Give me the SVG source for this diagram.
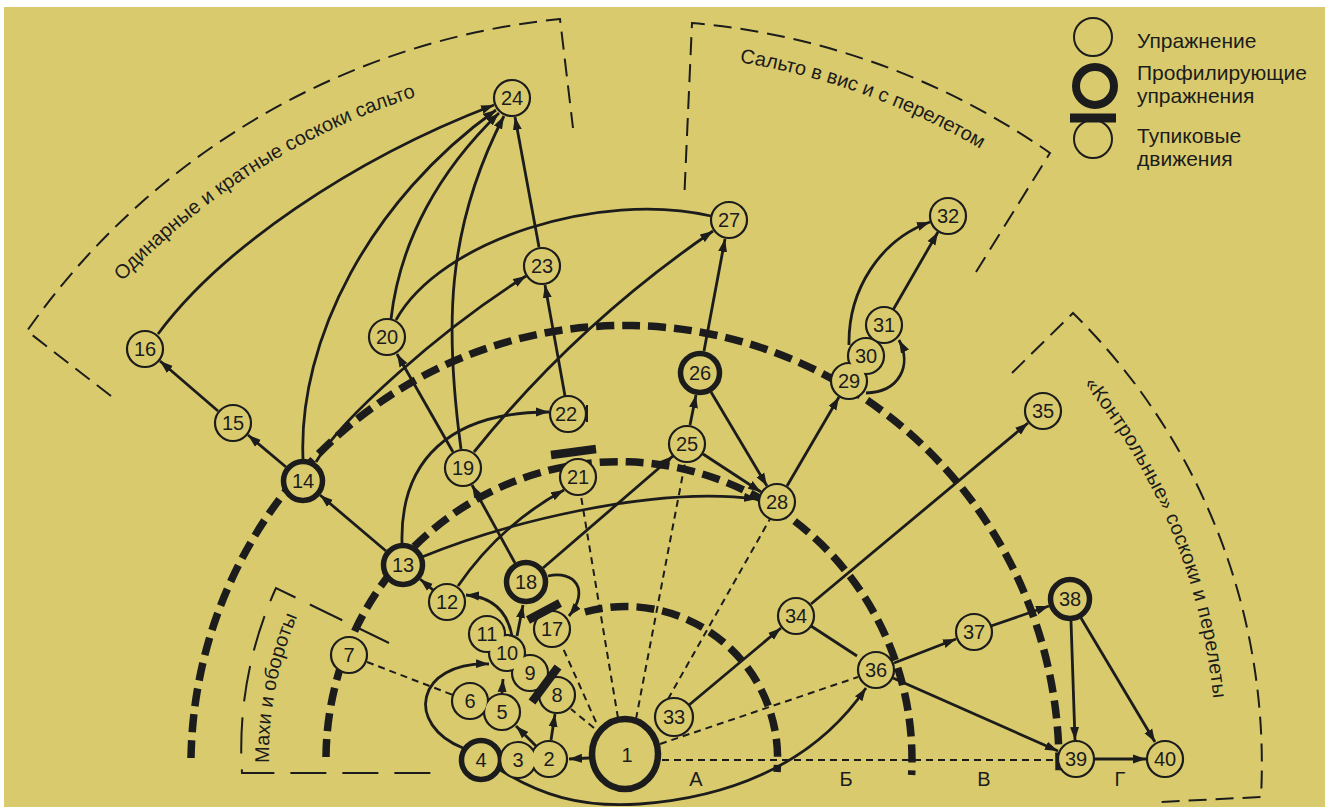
<svg xmlns="http://www.w3.org/2000/svg" width="1325" height="807" viewBox="0 0 1325 807">
<defs>
<style>
.n circle,.n ellipse{fill:#D9CB6D;stroke:#1c1c1c;stroke-width:2.2}
.n.p circle{stroke-width:5.5}
.n text{font-family:"Liberation Sans",Arial,sans-serif;font-size:20px;fill:#1c1c1c;text-anchor:middle}
.e{fill:none;stroke:#1c1c1c;stroke-width:2.8}
.a{marker-end:url(#ah)}
.d{fill:none;stroke:#1c1c1c;stroke-width:2;stroke-dasharray:7 5}
.z{fill:none;stroke:#1c1c1c;stroke-width:7.5;stroke-dasharray:18 8}
.s{fill:none;stroke:#1c1c1c;stroke-width:2;stroke-dasharray:18 9}
.s2{fill:none;stroke:#1c1c1c;stroke-width:2;stroke-dasharray:36 16}
.bar{stroke:#1c1c1c;stroke-width:8.5;fill:none}
.lbl{font-family:"Liberation Sans",Arial,sans-serif;font-size:20px;fill:#1c1c1c}
.zl{font-family:"Liberation Sans",Arial,sans-serif;font-size:20px;fill:#1c1c1c;text-anchor:middle}
.lg{font-family:"Liberation Sans",Arial,sans-serif;font-size:21px;fill:#1c1c1c}
</style>
<marker id="ah" markerUnits="userSpaceOnUse" markerWidth="14" markerHeight="10" refX="13" refY="5" orient="auto"><path d="M0,0.5 L13,5 L0,9.5 z" fill="#1c1c1c"/></marker>
<mask id="m2" maskUnits="userSpaceOnUse" x="0" y="0" width="1325" height="807"><rect width="1325" height="807" fill="#fff"/><circle cx="518" cy="760" r="16.9" fill="#000"/></mask>
<mask id="m3" maskUnits="userSpaceOnUse" x="0" y="0" width="1325" height="807"><rect width="1325" height="807" fill="#fff"/><circle cx="549" cy="759" r="16.9" fill="#000"/><circle cx="481" cy="760" r="16.75" fill="#000"/></mask>
<mask id="m4" maskUnits="userSpaceOnUse" x="0" y="0" width="1325" height="807"><rect width="1325" height="807" fill="#fff"/><circle cx="518" cy="760" r="16.9" fill="#000"/></mask>
<mask id="m5" maskUnits="userSpaceOnUse" x="0" y="0" width="1325" height="807"><rect width="1325" height="807" fill="#fff"/><circle cx="470" cy="701" r="16.9" fill="#000"/></mask>
<mask id="m6" maskUnits="userSpaceOnUse" x="0" y="0" width="1325" height="807"><rect width="1325" height="807" fill="#fff"/><circle cx="502" cy="712" r="16.9" fill="#000"/></mask>
<mask id="m9" maskUnits="userSpaceOnUse" x="0" y="0" width="1325" height="807"><rect width="1325" height="807" fill="#fff"/><circle cx="507" cy="653" r="16.9" fill="#000"/></mask>
<mask id="m10" maskUnits="userSpaceOnUse" x="0" y="0" width="1325" height="807"><rect width="1325" height="807" fill="#fff"/><circle cx="530" cy="673" r="16.9" fill="#000"/><circle cx="487" cy="634" r="16.9" fill="#000"/></mask>
<mask id="m11" maskUnits="userSpaceOnUse" x="0" y="0" width="1325" height="807"><rect width="1325" height="807" fill="#fff"/><circle cx="507" cy="653" r="16.9" fill="#000"/></mask>
<mask id="m29" maskUnits="userSpaceOnUse" x="0" y="0" width="1325" height="807"><rect width="1325" height="807" fill="#fff"/><circle cx="866" cy="356" r="16.9" fill="#000"/></mask>
<mask id="m30" maskUnits="userSpaceOnUse" x="0" y="0" width="1325" height="807"><rect width="1325" height="807" fill="#fff"/><circle cx="849" cy="381" r="16.9" fill="#000"/><circle cx="884" cy="325" r="16.9" fill="#000"/></mask>
<mask id="m31" maskUnits="userSpaceOnUse" x="0" y="0" width="1325" height="807"><rect width="1325" height="807" fill="#fff"/><circle cx="866" cy="356" r="16.9" fill="#000"/></mask>
<path id="tp1" d="M122.4,281.4 A692,692 0 0 1 482.1,79.1"/>
<path id="tp2" d="M739.6,62.2 A703,703 0 0 1 1029.2,180.1"/>
<path id="tp3" d="M1083.8,383.9 A590,590 0 0 1 1216,756"/>
<path id="tp4" d="M269.1,762.9 A357,357 0 0 1 316.8,577.5"/>
</defs>
<rect width="1325" height="807" fill="#fff"/>
<rect x="4" y="7" width="1321" height="800" fill="#D9CB6D"/>

<g id="zones">
<path class="s" d="M111,396 L27,331 A741,741 0 0 1 560,19 L573,128"/>
<path class="s" d="M684.6,190 L692,23 A737,737 0 0 1 1050,153 L976,272"/>
<path class="s" d="M1012,373 L1073,313 A633,633 0 0 1 1261,797 L1160,802"/>
<path class="s2" d="M389,643 L276,588 A388,388 0 0 0 242,773 L441,773"/>
<text class="lbl"><textPath href="#tp1">Одинарные и кратные соскоки сальто</textPath></text>
<text class="lbl"><textPath href="#tp2">Сальто в вис и с перелетом</textPath></text>
<text class="lbl"><textPath href="#tp3" textLength="345" lengthAdjust="spacing">«Контрольные» соскоки и перелеты</textPath></text>
<text class="lbl"><textPath href="#tp4">Махи и обороты</textPath></text>
<path class="z" d="M585,612 A152,152 0 0 1 777,772"/>
<path class="z" d="M326,757 A293,298 0 1 1 911.6,775"/>
<path class="z" d="M191,758 A434,440 0 1 1 1059,773"/>
<text class="zl" x="696" y="786">А</text>
<text class="zl" x="846" y="786">Б</text>
<text class="zl" x="984" y="786">В</text>
<text class="zl" x="1120" y="786">Г</text>
</g>

<g id="connectors">
<path class="d" d="M594,728 L571,709"/>
<path class="d" d="M596,722 L562,646"/>
<path class="d" d="M618,718 L581,496"/>
<path class="d" d="M636,719 L685,463"/>
<path class="d" d="M668,699 L770,519"/>
<path class="d" d="M660,744 L858,677"/>
<path class="d" d="M662,760 L1057,760"/>
<path class="d" d="M367,662 L453,695"/>
<path class="e a" d="M589,758 L569,759"/>
<path class="e a" d="M536,746 L516,726"/>
<path class="e a" d="M551,740 L555,714"/>
<path class="e a" d="M502,693 L503,679"/>
<path class="e a" d="M463,748 C405,725 415,662 489,664"/>
<path class="e a" d="M497,768 C540,795 580,808 640,804 C720,798 810,770 866,688"/>
<path class="e a" d="M512,636 Q505,598 466,595"/>
<path class="e a" d="M517,636 L523,605"/>
<path class="e a" d="M548,576 C575,570 590,590 569,616"/>
<path class="e a" d="M515,563 L472,485"/>
<path class="e a" d="M543,568 L673,456"/>
<path class="e a" d="M433,590 L420,579"/>
<path class="e a" d="M458,586 Q500,525 564,490"/>
<path class="e a" d="M386,551 L320,495"/>
<path class="e a" d="M286,467 L248,435"/>
<path class="e a" d="M218,411 L160,361"/>
<path class="e a" d="M158,334 C220,250 350,160 494,105"/>
<path class="e a" d="M303,459 C298,340 370,200 496,110"/>
<path class="e a" d="M391,319 C400,240 440,170 499,113"/>
<path class="e a" d="M461,449 C445,330 445,230 504,116"/>
<path class="e a" d="M539,247 L515,117"/>
<path class="e a" d="M565,396 L545,285"/>
<path class="e a" d="M453,452 L397,354"/>
<path class="e a" d="M402,543 C400,460 450,412 549,412"/>
<path class="e" d="M396,320 C440,240 600,190 711,216"/>
<path class="e a" d="M474,452 Q576,325 713,231"/>
<path class="e a" d="M316,462 C340,420 440,330 526,276"/>
<path class="e a" d="M422,557 C500,525 650,485 757,499"/>
<path class="e a" d="M690,425 L696,395"/>
<path class="e a" d="M703,454 L761,492"/>
<path class="e a" d="M711,392 L767,486"/>
<path class="e a" d="M704,351 L725,239"/>
<path class="e a" d="M787,486 L839,397"/>
<path class="e a" d="M866,393 C900,392 912,365 899,340"/>
<path class="e a" d="M849,345 C848,290 880,240 930,222"/>
<path class="e a" d="M893,310 L938,232"/>
<path class="e a" d="M689,705 L781,628"/>
<path class="e a" d="M811,604 L1028,423"/>
<path class="e" d="M811,626 L857,656"/>
<path class="e a" d="M894,663 L956,639"/>
<path class="e a" d="M893,678 L1058,751"/>
<path class="e a" d="M991,626 L1049,606"/>
<path class="e a" d="M1071,621 L1075,740"/>
<path class="e a" d="M1081,618 L1155,742"/>
<path class="e a" d="M1095,759 L1146,759"/>
</g>

<g id="node-1" class="n"><ellipse cx="625" cy="754" rx="33" ry="35" style="stroke-width:6.5"/><text x="627" y="762">1</text></g>
<g id="node-2" class="n"><circle cx="549" cy="759" r="18" mask="url(#m2)"/><text x="549" y="766">2</text></g>
<g id="node-3" class="n"><circle cx="518" cy="760" r="18" mask="url(#m3)"/><text x="518" y="767">3</text></g>
<g id="node-4" class="n p"><circle cx="481" cy="760" r="19.5" mask="url(#m4)"/><text x="481" y="767">4</text></g>
<g id="node-5" class="n"><circle cx="502" cy="712" r="18" mask="url(#m5)"/><text x="502" y="719">5</text></g>
<g id="node-6" class="n"><circle cx="470" cy="701" r="18" mask="url(#m6)"/><text x="470" y="708">6</text></g>
<g id="node-7" class="n"><circle cx="349" cy="655" r="18"/><text x="349" y="662">7</text></g>
<g id="node-9" class="n"><circle cx="530" cy="673" r="18" mask="url(#m9)"/><text x="530" y="680">9</text></g>
<g id="node-10" class="n"><circle cx="507" cy="653" r="18" mask="url(#m10)"/><text x="507" y="660">10</text></g>
<g id="node-11" class="n"><circle cx="487" cy="634" r="18" mask="url(#m11)"/><text x="487" y="641">11</text></g>
<g id="node-8" class="n"><circle cx="557" cy="695" r="18"/><text x="557" y="702">8</text><path class="bar" d="M532,702 L558,667"/></g>
<g id="node-12" class="n"><circle cx="447" cy="602" r="18"/><text x="447" y="609">12</text></g>
<g id="node-13" class="n p"><circle cx="403" cy="565" r="19.5"/><text x="403" y="572">13</text></g>
<g id="node-14" class="n p"><circle cx="303" cy="481" r="19.5"/><text x="303" y="488">14</text></g>
<g id="node-15" class="n"><circle cx="233" cy="423" r="18"/><text x="233" y="430">15</text></g>
<g id="node-16" class="n"><circle cx="145" cy="349" r="18"/><text x="145" y="356">16</text></g>
<g id="node-18" class="n p"><circle cx="526" cy="582" r="19.5"/><text x="526" y="589">18</text></g>
<g id="node-17" class="n"><circle cx="552" cy="629" r="18"/><text x="552" y="636">17</text><path class="bar" d="M528,620 L560,603"/></g>
<g id="node-19" class="n"><circle cx="463" cy="468" r="18"/><text x="463" y="475">19</text></g>
<g id="node-20" class="n"><circle cx="387" cy="337" r="18"/><text x="387" y="344">20</text></g>
<g id="node-21" class="n"><circle cx="578" cy="477" r="18"/><text x="578" y="484">21</text><path class="bar" d="M551,455 L596,449"/></g>
<g id="node-22" class="n"><circle cx="568" cy="414" r="18"/><text x="566" y="421">22</text><path d="M587,405 L587,422" stroke="#1c1c1c" stroke-width="2"/></g>
<g id="node-23" class="n"><circle cx="542" cy="266" r="18"/><text x="542" y="273">23</text></g>
<g id="node-24" class="n"><circle cx="512" cy="98" r="18"/><text x="512" y="105">24</text></g>
<g id="node-25" class="n"><circle cx="687" cy="444" r="18"/><text x="687" y="451">25</text></g>
<g id="node-26" class="n p"><circle cx="700" cy="373" r="19.5"/><text x="700" y="380">26</text></g>
<g id="node-27" class="n"><circle cx="729" cy="220" r="18"/><text x="729" y="227">27</text></g>
<g id="node-28" class="n"><circle cx="777" cy="502" r="18"/><text x="777" y="509">28</text></g>
<g id="node-29" class="n"><circle cx="849" cy="381" r="18" mask="url(#m29)"/><text x="849" y="388">29</text></g>
<g id="node-30" class="n"><circle cx="866" cy="356" r="18" mask="url(#m30)"/><text x="866" y="363">30</text></g>
<g id="node-31" class="n"><circle cx="884" cy="325" r="18" mask="url(#m31)"/><text x="884" y="332">31</text></g>
<g id="node-32" class="n"><circle cx="948" cy="216" r="18"/><text x="948" y="223">32</text></g>
<g id="node-33" class="n"><circle cx="674" cy="717" r="19"/><text x="674" y="724">33</text></g>
<g id="node-34" class="n"><circle cx="796" cy="616" r="18"/><text x="796" y="623">34</text></g>
<g id="node-35" class="n"><circle cx="1043" cy="411" r="18"/><text x="1043" y="418">35</text></g>
<g id="node-36" class="n"><circle cx="876" cy="670" r="18"/><text x="876" y="677">36</text></g>
<g id="node-37" class="n"><circle cx="974" cy="632" r="18"/><text x="974" y="639">37</text></g>
<g id="node-38" class="n p"><circle cx="1070" cy="599" r="19.5"/><text x="1070" y="606">38</text></g>
<g id="node-39" class="n"><circle cx="1076" cy="759" r="18"/><text x="1076" y="766">39</text></g>
<g id="node-40" class="n"><circle cx="1165" cy="759" r="18"/><text x="1165" y="766">40</text></g>

<g id="legend">
<circle cx="1093" cy="37" r="19" fill="none" stroke="#1c1c1c" stroke-width="2"/>
<circle cx="1095" cy="86" r="19" fill="none" stroke="#1c1c1c" stroke-width="8"/>
<circle cx="1093" cy="139" r="19" fill="none" stroke="#1c1c1c" stroke-width="2"/>
<path d="M1070,118 L1116,118" stroke="#1c1c1c" stroke-width="9"/>
<text class="lg" x="1137" y="48">Упражнение</text>
<text class="lg" x="1137" y="80">Профилирующие</text>
<text class="lg" x="1137" y="103">упражнения</text>
<text class="lg" x="1137" y="143">Тупиковые</text>
<text class="lg" x="1137" y="166">движения</text>
</g>
</svg>
